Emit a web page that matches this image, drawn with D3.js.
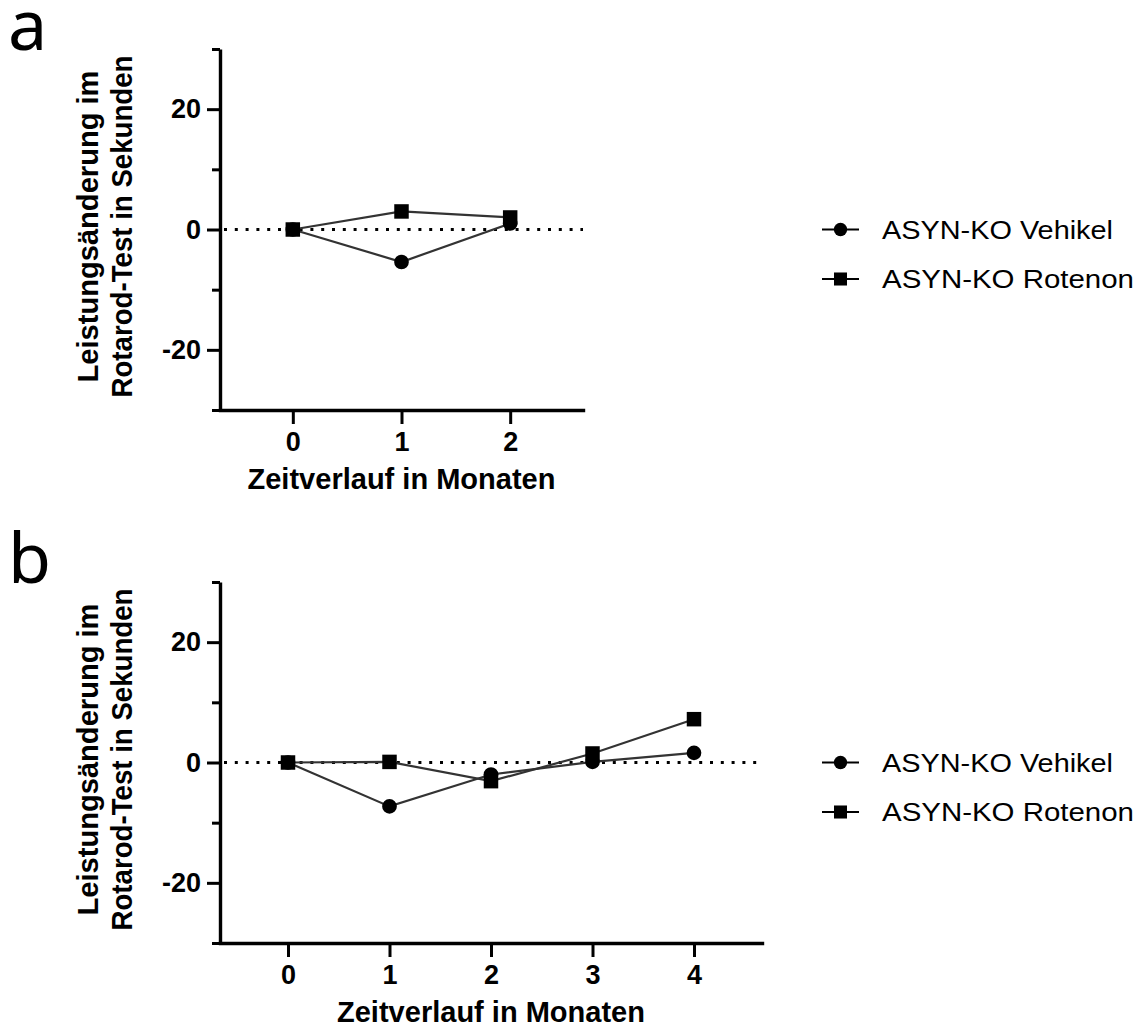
<!DOCTYPE html>
<meta charset="utf-8">
<title>Rotarod ASYN-KO</title>
<style>
    body { margin: 0; background: white; }
    .tick text { font-family: "Liberation Sans", Arial, sans-serif; font-weight: bold; font-size: 27px; fill: black; }
    .lab { font-family: "Liberation Sans", Arial, sans-serif; font-weight: bold; font-size: 29px; fill: black; }
    .leg { font-family: "Liberation Sans", Arial, sans-serif; font-size: 25px; fill: black; }
    .panel { font-family: "Noto Sans", "Open Sans", sans-serif; font-size: 70px; fill: black; }
</style>
<script src="https://d3js.org/d3.v7.js"></script>
<body>
<script>
    // data
    const seriesNames = ["ASYN-KO Vehikel", "ASYN-KO Rotenon"];

    const monthsA = [0, 1, 2];
    const vehikelA = [0, -5.4, 1.0];
    const rotenonA = [0, 3.0, 2.0];

    const monthsB = [0, 1, 2, 3, 4];
    const vehikelB = [0, -7.3, -2.0, 0.1, 1.6];
    const rotenonB = [0, 0.1, -3.1, 1.5, 7.2];

    const yMajor = [-20, 0, 20];
    const yMinor = [-30, -10, 10, 30];

    const svg = d3.select("body")
        .append("svg")
        .attr("width", 1134)
        .attr("height", 1030);

    // plain hyphen minus like the original
    const fmt = d => String(d);

    function drawPanel(letter, top, right, months, vehikel, rotenon) {
        const left = 220, bottom = top + 361;

        const x = d3.scaleLinear()
            .domain([-0.67, months[months.length - 1] + 0.67])
            .range([left, right]);

        const y = d3.scaleLinear()
            .domain([-30, 30])
            .range([bottom, top]);

        // panel letter
        svg.append("text")
            .attr("class", "panel")
            .attr("x", 8)
            .attr("y", top + 1)
            .text(letter);

        // zero line (dotted)
        svg.append("line")
            .attr("x1", x.range()[0] + 4)
            .attr("x2", x.range()[1])
            .attr("y1", y(0))
            .attr("y2", y(0))
            .attr("stroke", "black")
            .attr("stroke-width", 3)
            .attr("stroke-dasharray", "3 7.8");

        // y axis: minor then major
        svg.append("g")
            .attr("transform", `translate(${left},0)`)
            .call(d3.axisLeft(y).tickValues(yMinor).tickSize(8).tickFormat(""))
            .call(g => g.select(".domain").remove())
            .selectAll("line").attr("stroke-width", 3);

        const ya = svg.append("g")
            .attr("transform", `translate(${left},0)`)
            .call(d3.axisLeft(y).tickValues(yMajor).tickFormat(fmt).tickSize(13).tickSizeOuter(0).tickPadding(6));
        ya.selectAll("line").attr("stroke-width", 3);
        ya.select(".domain").attr("stroke-width", 3.4);

        // x axis
        const xa = svg.append("g")
            .attr("transform", `translate(0,${bottom})`)
            .call(d3.axisBottom(x).tickValues(months).tickFormat(fmt).tickSize(14).tickSizeOuter(0).tickPadding(8));
        xa.selectAll("line").attr("stroke-width", 3);
        xa.select(".domain").attr("stroke-width", 3.4).attr("stroke-linecap", "square");

        // axis titles
        svg.append("text")
            .attr("class", "lab")
            .attr("x", (left + right) / 2)
            .attr("y", bottom + 79)
            .attr("text-anchor", "middle")
            .attr("textLength", 308)
            .attr("lengthAdjust", "spacingAndGlyphs")
            .text("Zeitverlauf in Monaten");

        const midY = (top + bottom) / 2 - 3;
        svg.append("text")
            .attr("class", "lab")
            .attr("transform", `translate(98,${midY}) rotate(-90)`)
            .attr("text-anchor", "middle")
            .attr("textLength", 312)
            .attr("lengthAdjust", "spacingAndGlyphs")
            .text("Leistungsänderung im");
        svg.append("text")
            .attr("class", "lab")
            .attr("transform", `translate(132,${midY}) rotate(-90)`)
            .attr("text-anchor", "middle")
            .attr("textLength", 342)
            .attr("lengthAdjust", "spacingAndGlyphs")
            .text("Rotarod-Test in Sekunden");

        // series
        const line = d3.line()
            .x(d => x(d[0]))
            .y(d => y(d[1]));

        const series = [
            { name: seriesNames[0], vals: vehikel, sym: d3.symbolCircle, size: 170 },
            { name: seriesNames[1], vals: rotenon, sym: d3.symbolSquare, size: 210 }
        ];

        series.forEach(s => {
            const pts = months.map((m, i) => [m, s.vals[i]]);
            svg.append("path")
                .datum(pts)
                .attr("d", line)
                .attr("fill", "none")
                .attr("stroke", "#333")
                .attr("stroke-width", 2.2);
        });
        series.forEach(s => {
            const pts = months.map((m, i) => [m, s.vals[i]]);
            svg.selectAll(null)
                .data(pts)
                .join("path")
                .attr("d", d3.symbol().type(s.sym).size(s.size))
                .attr("transform", d => `translate(${x(d[0])},${y(d[1])})`)
                .attr("fill", "black");
        });

        // legend
        const legTop = y(0);
        series.forEach((s, i) => {
            const ly = legTop + i * 49.5;
            svg.append("line")
                .attr("x1", 822).attr("x2", 859)
                .attr("y1", ly).attr("y2", ly)
                .attr("stroke", "black")
                .attr("stroke-width", 2);
            svg.append("path")
                .attr("d", d3.symbol().type(s.sym).size(i === 0 ? 140 : 170))
                .attr("transform", `translate(840.5,${ly})`)
                .attr("fill", "black");
            svg.append("text")
                .attr("class", "leg")
                .attr("x", 882)
                .attr("y", ly + 9)
                .attr("textLength", i === 0 ? 231 : 252)
                .attr("lengthAdjust", "spacingAndGlyphs")
                .text(s.name);
        });
    }

    drawPanel("a", 49, 583, monthsA, vehikelA, rotenonA);
    drawPanel("b", 582, 762, monthsB, vehikelB, rotenonB);
</script>
</body>
